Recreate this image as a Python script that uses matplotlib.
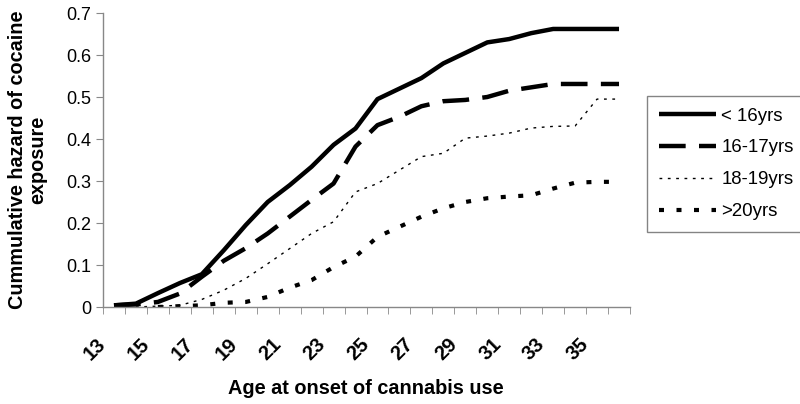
import matplotlib
matplotlib.use("Agg")
import matplotlib.pyplot as plt
import matplotlib.transforms as mtransforms
import numpy as np

plt.rcParams['font.family'] = ['Liberation Sans', 'DejaVu Sans']

ages = list(range(13, 37))
tick_labels = [str(a) if a % 2 == 1 and a <= 35 else "" for a in ages]

under16 = [0.004, 0.008, 0.033, 0.057, 0.078, 0.135, 0.195, 0.250, 0.290, 0.334,
           0.386, 0.425, 0.495, 0.520, 0.545, 0.580, 0.605, 0.630, 0.638, 0.652,
           0.662, 0.662, 0.662, 0.662]
age16_17 = [0.004, 0.006, 0.012, 0.032, 0.072, 0.110, 0.140, 0.175, 0.215, 0.255,
            0.294, 0.382, 0.433, 0.453, 0.478, 0.490, 0.493, 0.500, 0.515, 0.523,
            0.531, 0.531, 0.531, 0.531]
age18_19 = [None, 0.000, 0.002, 0.004, 0.018, 0.040, 0.068, 0.103, 0.139, 0.175,
            0.203, 0.274, 0.294, 0.326, 0.358, 0.366, 0.402, 0.407, 0.414, 0.426,
            0.430, 0.431, 0.495, 0.495]
over20 = [None, None, 0.000, 0.002, 0.004, 0.010, 0.012, 0.024, 0.046, 0.064,
          0.095, 0.120, 0.167, 0.191, 0.215, 0.235, 0.250, 0.259, 0.263, 0.266,
          0.282, 0.296, 0.298, 0.298]

series = [
    ("< 16yrs", under16, dict(lw=3.2, ls='-', solid_capstyle='butt')),
    ("16-17yrs", age16_17, dict(lw=3.2, ls=(0, (6, 3)), dash_capstyle='butt')),
    ("18-19yrs", age18_19, dict(lw=1.0, ls=(0, (2, 4)), dash_capstyle='butt')),
    (">20yrs", over20, dict(lw=3.0, ls=(0, (1.2, 3.0)), dash_capstyle='butt')),
]

fig = plt.figure(figsize=(8.0, 4.04), dpi=100)
ax = fig.add_axes([103/800, 1-307/404, (630-103)/800, (307-13)/404])

x = np.arange(len(ages))
for name, vals, style in series:
    arr = np.array([np.nan if v is None else v for v in vals], dtype=float)
    ax.plot(x, arr, color='black', label=name, **style)

ax.set_xlim(-0.5, len(ages) - 0.5)
ax.set_ylim(0, 0.7)
ax.set_yticks(np.arange(0, 0.71, 0.1))
ax.set_yticklabels(["0", "0.1", "0.2", "0.3", "0.4", "0.5", "0.6", "0.7"], fontsize=13)

ax.set_xticks(x)
ax.set_xticklabels(tick_labels, rotation=45, ha='right', va='top',
                   rotation_mode='anchor', fontsize=14.5, fontweight='bold')
ax.tick_params(axis='x', which='major', length=0, pad=20)
offset = mtransforms.ScaledTranslation(-18/100, 0, fig.dpi_scale_trans)
for lab in ax.get_xticklabels():
    lab.set_transform(lab.get_transform() + offset)
ax.set_xticks(np.arange(-0.5, len(ages), 1.0), minor=True)
ax.tick_params(axis='x', which='minor', length=5, color='#888888', direction='out')
ax.tick_params(axis='y', length=5, color='#888888', direction='out')

for s in ['top', 'right']:
    ax.spines[s].set_visible(False)
for s in ['left', 'bottom']:
    ax.spines[s].set_color('#888888')
    ax.spines[s].set_linewidth(1.0)

fig.text(366/800, 1-388/404, "Age at onset of cannabis use", ha='center', va='center',
         fontsize=14.3, fontweight='bold')
fig.text(28/800, 1-160/404, "Cummulative hazard of cocaine\nexposure", rotation=90,
         ha='center', va='center', fontsize=14.3, fontweight='bold', linespacing=1.1)

leg = ax.legend(loc='upper left', bbox_to_anchor=(647/800, 1-96/404),
                bbox_transform=fig.transFigure, fontsize=13.4, frameon=True,
                fancybox=False, edgecolor='#666666', handlelength=3.1,
                labelspacing=0.8, borderpad=0.62, handletextpad=0.27,
                borderaxespad=0)
leg.get_frame().set_linewidth(1.0)

fig.savefig("out.png", dpi=100)
